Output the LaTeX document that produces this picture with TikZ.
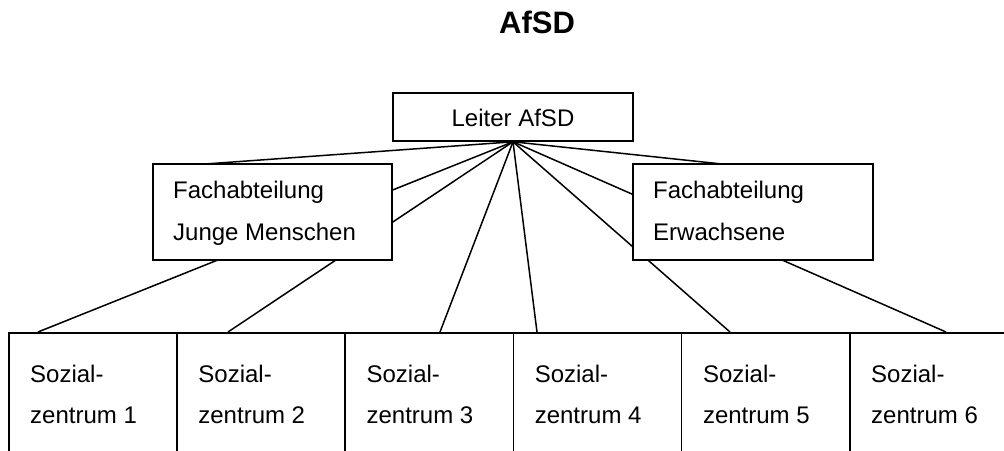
\documentclass[tikz,border=0pt]{standalone}
\usepackage{fontspec}
\setmainfont{Liberation Sans}
\pgfdeclarelayer{paper}
\pgfdeclarelayer{bg}
\pgfsetlayers{paper,bg,main}
\begin{document}
\begin{tikzpicture}[x=1pt,y=-1pt,
  box/.style={draw, fill=white, line width=1.6pt, inner sep=0pt},
  txt/.style={anchor=base west, inner sep=0pt, font=\fontsize{24}{28}\selectfont},
  conn/.style={line width=1.5pt}]
\useasboundingbox (0,0) rectangle (1004,450);
\clip (0,0) rectangle (1004,450);
\begin{pgfonlayer}{paper}
  \fill[white] (0,0) rectangle (1004,450);
\end{pgfonlayer}
% title
\node[anchor=base, inner sep=0pt, font=\bfseries\fontsize{31}{36}\selectfont] (title) at (537,33) {AfSD};
% top box
\node[box, minimum width=240pt, minimum height=48pt] (leiter) at (513,117) {};
\node[txt, anchor=base] (leitertxt) at (513,126) {Leiter AfSD};
% department boxes
\node[box, minimum width=239pt, minimum height=96pt] (jung) at (272.5,212) {};
\node[txt] (jungtxt1) at (173,198) {Fachabteilung};
\node[txt] (jungtxt2) at (173,240) {Junge Menschen};
\node[box, minimum width=240pt, minimum height=96pt] (erw) at (753,212) {};
\node[txt] (erwtxt1) at (653,198) {Fachabteilung};
\node[txt] (erwtxt2) at (653,240) {Erwachsene};
% social centres
\foreach \i in {1,...,6}{
  \pgfmathsetmacro{\xl}{8+168.2*(\i-1)}
  \node[box, anchor=north west, minimum width=168.2pt, minimum height=150pt] (sz\i) at (\xl,332) {};
  \node[txt] (szA\i) at (\xl+22,382) {Sozial-};
  \node[txt] (szB\i) at (\xl+22,423) {zentrum \i};
}
% connector end points
\coordinate (lj) at (205,164);
\coordinate (le) at (722,164);
\coordinate (t1) at (38,332);
\coordinate (t2) at (228,332);
\coordinate (t3) at (440,332);
\coordinate (t4) at (537,332);
\coordinate (t5) at (730,332);
\coordinate (t6) at (946,332);
\begin{pgfonlayer}{bg}
  \foreach \e in {lj,le,t1,t2,t3,t4,t5,t6}
    \draw[conn] (leiter.south) -- (\e);
\end{pgfonlayer}
\end{tikzpicture}
\end{document}
